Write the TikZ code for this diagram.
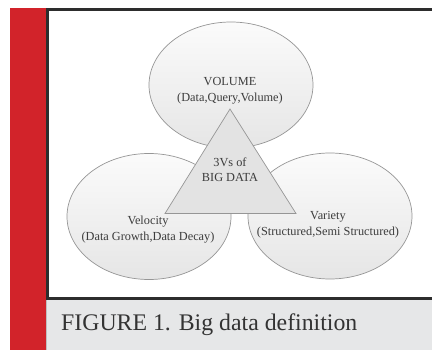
\documentclass[tikz,border=0pt]{standalone}
\usepackage{fontspec}
\setmainfont{Liberation Serif}
\usetikzlibrary{shapes.geometric}
\definecolor{barred}{RGB}{210,35,42}
\definecolor{capgray}{RGB}{230,231,232}
\definecolor{framegray}{RGB}{45,45,45}
\definecolor{rimgray}{RGB}{150,150,150}
\definecolor{inkgray}{RGB}{60,60,60}
\begin{document}
\begin{tikzpicture}[x=1pt,y=-1pt,
  vbubble/.style={ellipse, draw=rimgray, line width=0.7pt,
    top color=white!60!black!4, bottom color=black!10,
    minimum width=164pt, minimum height=126pt, inner sep=0pt},
  vlabel/.style={align=center, text=inkgray, font=\fontsize{12.3}{16}\selectfont},
  core/.style={draw=rimgray, line width=0.7pt, fill=black!11, line join=miter}]
\useasboundingbox (0,0) rectangle (432,350);
\fill[white] (0,0) rectangle (432,350);

% side bar and caption strip
\fill[barred] (10,8) rectangle (46,350);
\fill[capgray] (46,300) rectangle (432,350);
\draw[black!25, line width=0.6pt] (46.3,300) -- (46.3,350);

% figure frame
\draw[framegray, line width=3pt] (432,9.5) -- (47.5,9.5) -- (47.5,298.5) -- (432,298.5);

% the three V bubbles
\node[vbubble] (vol) at (231,85) {};
\node[vbubble] (vel) at (149,216.5) {};
\node[vbubble] (var) at (330,216) {};

% central triangle
\coordinate (apex) at (230,109);
\coordinate (bl) at (165,213.5);
\coordinate (br) at (296,213.5);
\draw[core] (apex) -- (bl) -- (br) -- cycle;

% labels
\node[vlabel] (voltxt) at (230,91) {VOLUME\\(Data,Query,Volume)};
\node[vlabel, font=\fontsize{12.3}{15}\selectfont] (coretxt) at (230,169.5) {3Vs of\\BIG DATA};
\node[vlabel] (veltxt) at (148,230) {Velocity\\(Data Growth,Data Decay)};
\node[vlabel] (vartxt) at (328,224.5) {Variety\\(Structured,Semi Structured)};

% caption
\node[anchor=base west, inner sep=0pt, text=black!80, font=\fontsize{23.8}{28}\selectfont] (cap) at (61,331) {FIGURE 1. Big data definition};
\end{tikzpicture}
\end{document}
